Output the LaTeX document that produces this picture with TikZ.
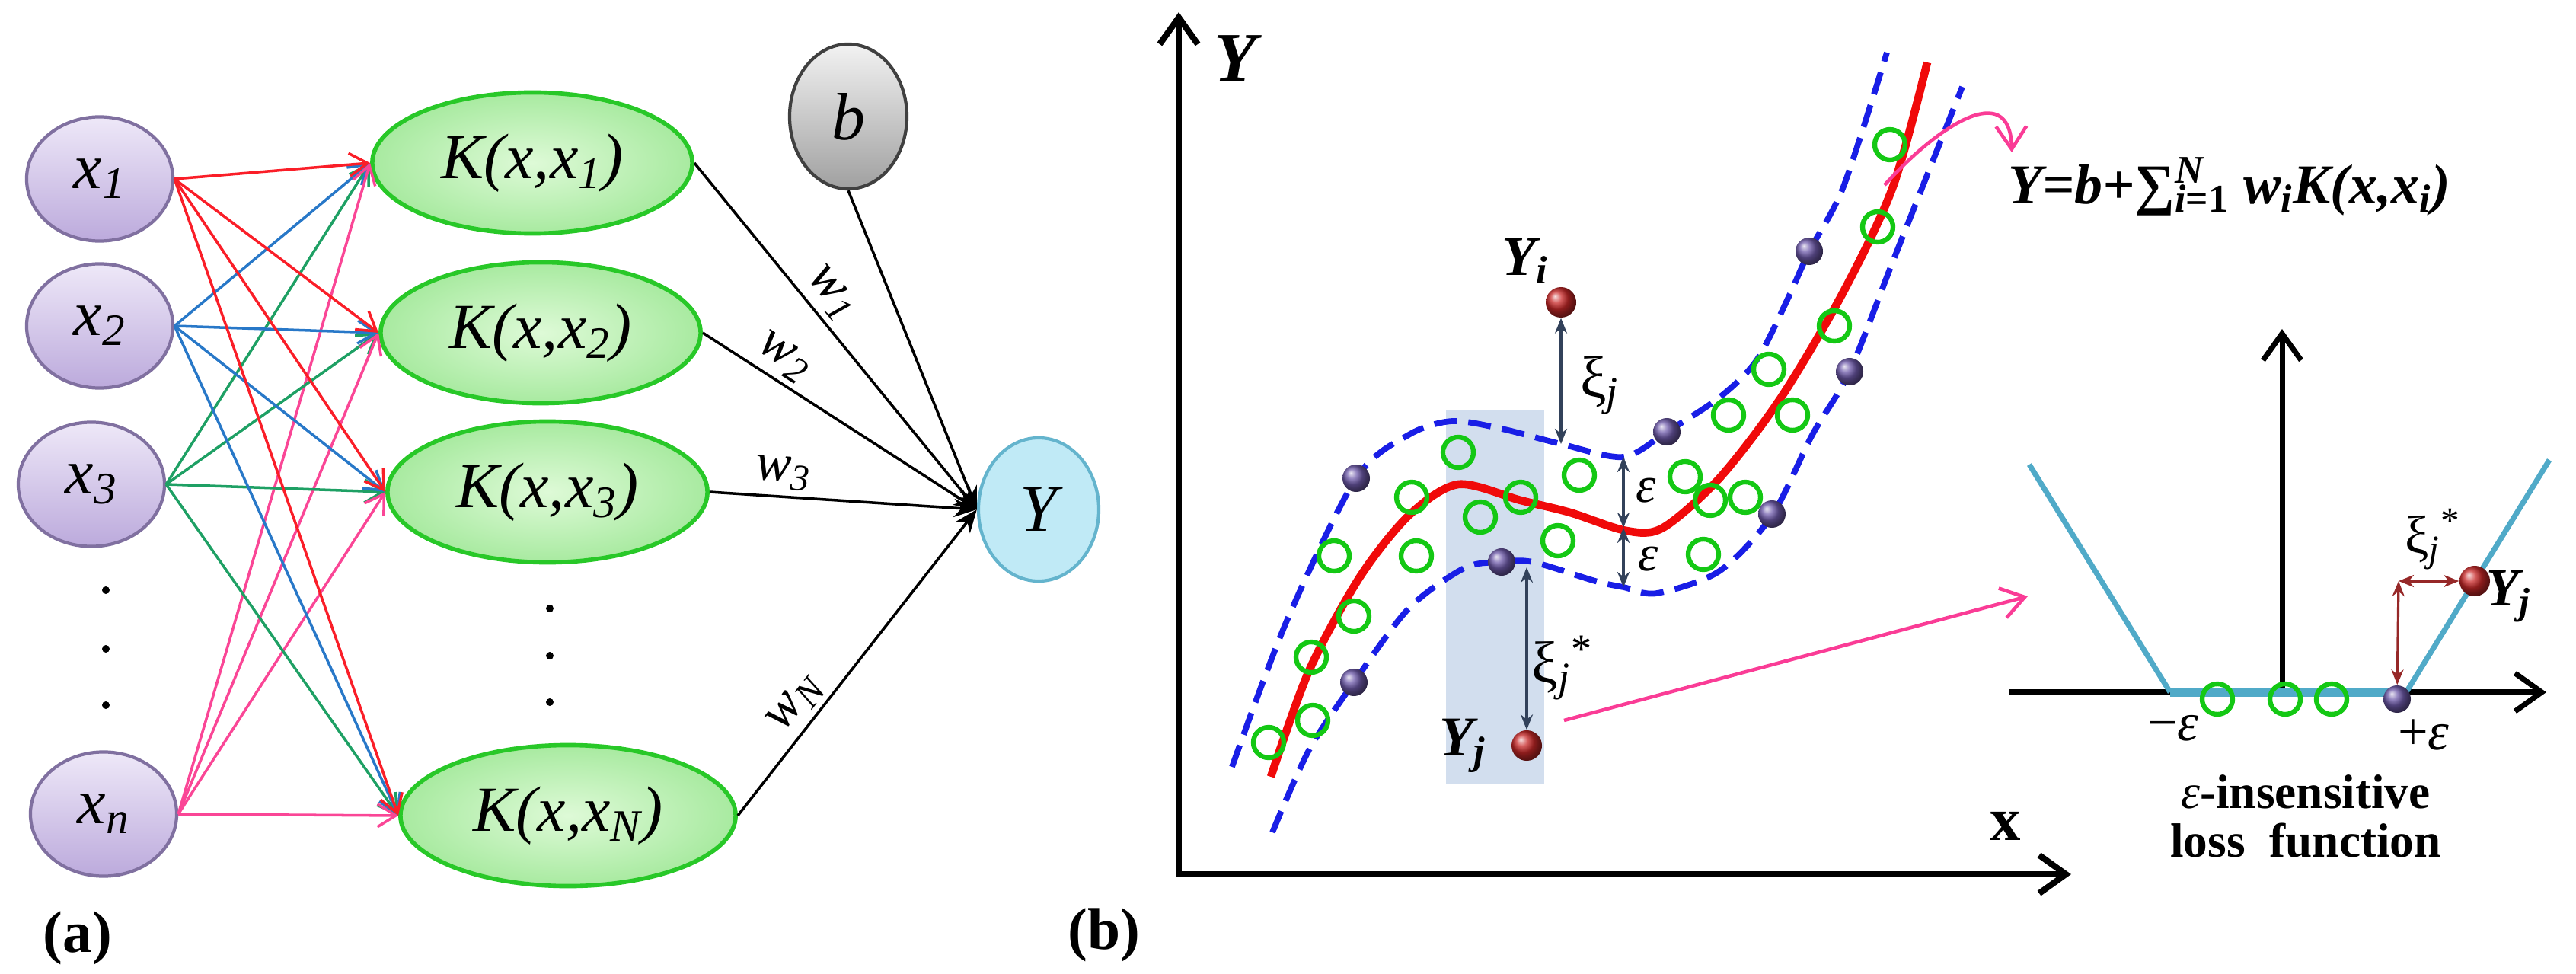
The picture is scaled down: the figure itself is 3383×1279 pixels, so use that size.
\documentclass[tikz,border=0pt]{standalone}
\usepackage{fontspec}
\setmainfont{Liberation Serif}
\usetikzlibrary{shapes.geometric,arrows.meta,positioning,calc}
\definecolor{xfillA}{RGB}{238,232,248}
\definecolor{xfillB}{RGB}{188,170,220}
\definecolor{xline}{RGB}{128,112,160}
\definecolor{kfillA}{RGB}{222,250,215}
\definecolor{kfillB}{RGB}{168,234,160}
\definecolor{kline}{RGB}{40,200,40}
\definecolor{bfillA}{RGB}{242,242,242}
\definecolor{bfillB}{RGB}{160,160,160}
\definecolor{yfill}{RGB}{192,234,246}
\definecolor{yline}{RGB}{100,180,205}
\definecolor{inred}{RGB}{250,30,40}
\definecolor{inblue}{RGB}{40,120,200}
\definecolor{ingreen}{RGB}{30,160,100}
\definecolor{inpink}{RGB}{250,70,150}
\definecolor{tubeblue}{RGB}{25,30,230}
\definecolor{fitred}{RGB}{240,10,10}
\definecolor{svgreen}{RGB}{20,200,20}
\definecolor{slack}{RGB}{50,65,90}
\definecolor{tubefill}{RGB}{210,222,238}
\definecolor{lossblue}{RGB}{80,170,200}
\definecolor{lossred}{RGB}{150,40,40}
\definecolor{zoompink}{RGB}{250,60,150}
\definecolor{svpurple}{RGB}{110,90,170}
\definecolor{ptred}{RGB}{200,40,40}
\newcommand{\fsz}[1]{\fontsize{#1}{#1}\selectfont}
\tikzset{
    xin/.style={ellipse, draw=xline, line width=1.2pt, top color=xfillA, bottom color=xfillB,
        minimum width=1.92cm, minimum height=1.63cm, font=\fsz{24}\itshape},
    kern/.style={ellipse, draw=kline, line width=1.6pt, inner color=kfillA, outer color=kfillB,
        minimum width=4.2cm, minimum height=1.85cm, font=\fsz{24}\itshape},
    bias/.style={ellipse, draw=black!75, line width=1.2pt, top color=bfillA, bottom color=bfillB,
        minimum width=1.54cm, minimum height=1.9cm, font=\fsz{25}\itshape},
    outnode/.style={ellipse, draw=yline, line width=1.2pt, fill=yfill,
        minimum width=1.58cm, minimum height=1.88cm, font=\fsz{25}\itshape},
    inedge/.style={line width=1pt, -{Straight Barb[length=2.4mm,width=3mm]}},
    outedge/.style={line width=1pt, -{Stealth[length=3mm,width=2.4mm]}},
    wlab/.style={sloped, above, font=\fsz{20}\itshape, inner sep=2pt},
    panel/.style={font=\fsz{22}\bfseries},
    mainaxis/.style={line width=2.3pt, {Straight Barb[length=3.5mm,width=5mm]}-{Straight Barb[length=3.5mm,width=5mm]}},
    insetaxis/.style={line width=2pt, -{Straight Barb[length=3.5mm,width=5mm]}},
    tubeline/.style={tubeblue, line width=2.2pt, dash pattern=on 3mm off 1.5mm},
    fitcurve/.style={fitred, line width=3pt},
    svring/.style={svgreen, line width=1.8pt},
    pball/.style={circle, ball color=svpurple, minimum size=0.36cm, inner sep=0pt},
    rball/.style={circle, ball color=ptred, minimum size=0.4cm, inner sep=0pt},
    slackarr/.style={slack, line width=0.9pt, {Stealth[length=2mm,width=1.6mm]}-{Stealth[length=2mm,width=1.6mm]}},
    lossarr/.style={lossred, line width=0.9pt, {Stealth[length=2mm,width=1.6mm]}-{Stealth[length=2mm,width=1.6mm]}},
    pinkarr/.style={zoompink, line width=1.3pt, -{Straight Barb[length=3mm,width=4mm]}},
    lossline/.style={lossblue, line width=2pt},
    lab/.style={font=\fsz{22}, inner sep=1pt}
}
\begin{document}
\begin{tikzpicture}[x=0.01cm, y=-0.01cm]
    \useasboundingbox (0,0) rectangle (3383,1279);

    % (a) Nodes
    \node[xin] (x1) at (131,235) {x\textsubscript{1}};
    \node[xin] (x2) at (131,428) {x\textsubscript{2}};
    \node[xin] (x3) at (120,636) {x\textsubscript{3}};
    \node[xin] (xn) at (136,1069) {x\textsubscript{n}};
    \node[kern] (K1) at (699,214) {K(x,x\textsubscript{1})};
    \node[kern] (K2) at (710,437) {K(x,x\textsubscript{2})};
    \node[kern] (K3) at (719,646) {K(x,x\textsubscript{3})};
    \node[kern, minimum width=4.4cm] (KN) at (746,1071) {K(x,x\textsubscript{N})};
    \node[bias] (b) at (1114,153) {b};
    \node[outnode] (Y) at (1364,669) {Y};
    \foreach \yy in {775,852,926} \fill (139,\yy) circle[radius=5];
    \foreach \yy in {799,861,922} \fill (722,\yy) circle[radius=5];

    % edges
    \foreach \k in {K1,K2,K3,KN} {
        \draw[inedge, ingreen] (x3.east) -- (\k.west);
        \draw[inedge, inblue] (x2.east) -- (\k.west);
        \draw[inedge, inpink] (xn.east) -- (\k.west);
        \draw[inedge, inred] (x1.east) -- (\k.west);
    }
    \draw[outedge] (K1.east) -- node[wlab, pos=0.42] (w1) {w\textsubscript{1}} (Y.west);
    \draw[outedge] (K2.east) -- node[wlab, pos=0.25] (w2) {w\textsubscript{2}} (Y.west);
    \draw[outedge] (K3.east) -- node[wlab, pos=0.27] (w3) {w\textsubscript{3}} (Y.west);
    \draw[outedge] (KN.east) -- node[wlab, pos=0.32] (wN) {w\textsubscript{N}} (Y.west);
    \draw[outedge] (b.south) -- (Y.west);
    \node[panel] (pa) at (102,1232) {(a)};

    % (b) regression
    \fill[tubefill] (1899,538) rectangle (2028,1029);
    \coordinate (O) at (1548,1148);
    \coordinate (ytop) at (1548,16);
    \coordinate (xend) at (2720,1148);
    \draw[mainaxis] (ytop) -- (O) -- (xend);
    \node[font=\fsz{26}\bfseries\itshape] (ylab) at (1622,77) {Y};
    \node[font=\fsz{23}\bfseries] (xlab) at (2634,1085) {x};
    \node[panel] (pb) at (1450,1228) {(b)};

    \draw[tubeline] plot[smooth] coordinates {(1618,1007) (1690,815) (1781,628) (1850,571) (1907,553)
        (1972,563) (2050,583) (2132,600) (2189,567) (2258,522) (2307,473) (2348,392) (2376,330)
        (2421,245) (2478,69)};
    \draw[tubeline] plot[smooth] coordinates {(1671,1093) (1719,985) (1778,896) (1850,799) (1923,746)
        (1972,738) (2013,738) (2095,763) (2132,771) (2176,779) (2258,750) (2327,677) (2380,571)
        (2429,488) (2486,343) (2577,114)};
    \draw[fitcurve] plot[smooth] coordinates {(1669,1020) (1719,881) (1785,759) (1850,677) (1915,636)
        (1997,657) (2062,673) (2136,697) (2184,693) (2258,628) (2339,522) (2421,383) (2486,245)
        (2531,82)};

    \foreach \p in {(1915,594),(1854,653),(1944,679),(1997,653),(2074,624),(2046,710),(1752,730),
        (1860,730),(1778,809),(1722,863),(1724,946),(1666,975),(2213,626),(2246,657),(2292,653),
        (2237,728),(2270,545),(2354,545),(2323,485),(2409,428),(2466,298),(2482,190)}
        \draw[svring] \p circle[radius=20];

    \node[pball] (sv1) at (1781,628) {};
    \node[pball] (sv2) at (2189,567) {};
    \node[pball] (sv3) at (2376,330) {};
    \node[pball] (sv4) at (2429,488) {};
    \node[pball] (sv5) at (2327,675) {};
    \node[pball] (sv6) at (1972,738) {};
    \node[pball] (sv7) at (1778,896) {};
    \node[rball] (Yi) at (2050,397) {};
    \node[rball] (Yj) at (2005,979) {};

    \node[lab, font=\fsz{21}\bfseries\itshape] (Yilab) at (2003,343) {Y\textsubscript{i}};
    \node[lab, font=\fsz{21}\bfseries\itshape] (Yjlab) at (1921,979) {Y\textsubscript{j}};
    \coordinate (tA) at (2050,583);
    \coordinate (tB) at (2005,745);
    \coordinate (eA) at (2132,600);
    \coordinate (eB) at (2132,693);
    \coordinate (eC) at (2132,771);
    \draw[slackarr] (Yi) -- (tA);
    \draw[slackarr] (tB) -- (Yj);
    \draw[slackarr] (eA) -- (eB);
    \draw[slackarr] (eB) -- (eC);
    \node[lab] (xi1) at (2101,506) {ξ\textsubscript{\itshape j}};
    \node[lab] (xi2) at (2052,877) {ξ\textsubscript{\itshape j}\textsuperscript{*}};
    \node[lab, font=\fsz{19}\itshape] (eps1) at (2162,644) {ε};
    \node[lab, font=\fsz{19}\itshape] (eps2) at (2165,734) {ε};

    % formula and zoom arrows
    \node[font=\fsz{21}\bfseries\itshape] (eq) at (2928,245)
        {Y=b+{\upshape ∑}\rlap{\textsuperscript{N}}\textsubscript{i{\upshape =1}} w\textsubscript{i}K(x,x\textsubscript{i})};
    \coordinate (fitpt) at (2475,243);
    \coordinate (eqtip) at (2642,200);
    \draw[pinkarr] (fitpt) .. controls (2540,170) and (2640,100) .. (eqtip);
    \coordinate (zf) at (2054,946);
    \coordinate (zt) at (2663,783);
    \draw[pinkarr] (zf) -- (zt);

    % inset: loss function
    \coordinate (iO) at (2997,909);
    \coordinate (iT) at (2997,432);
    \coordinate (iL) at (2638,909);
    \coordinate (iR) at (3344,909);
    \draw[insetaxis] (iO) -- (iT);
    \draw[insetaxis] (iL) -- (iR);
    \coordinate (vL) at (2665,610);
    \coordinate (vA) at (2850,909);
    \coordinate (vB) at (3160,909);
    \coordinate (vR) at (3348,604);
    \draw[lossline] (vL) -- (vA);
    \draw[lossline, line width=3.5pt] (vA) -- (vB);
    \draw[lossline] (vB) -- (vR);
    \foreach \xx in {2912,3001,3062} \draw[svring] (\xx,918) circle[radius=20];
    \node[pball] (sv8) at (3148,918) {};
    \node[rball] (Yk) at (3250,763) {};
    \coordinate (cA) at (3150,763);
    \draw[lossarr] (cA) -- (Yk);
    \draw[lossarr] (cA) -- (sv8);
    \node[lab, font=\fsz{20}] (xi3) at (3195,708) {ξ\textsubscript{\itshape j}\textsuperscript{*}};
    \node[lab, font=\fsz{20}\bfseries\itshape] (Yklab) at (3295,783) {Y\textsubscript{j}};
    \node[lab, font=\fsz{20}] (meps) at (2854,956) {−{\itshape ε}};
    \node[lab, font=\fsz{20}] (peps) at (3183,965) {+{\itshape ε}};
    \node[font=\fsz{18}\bfseries, align=center] (losslab) at (3028,1072)
        {{\mdseries\itshape ε}-insensitive\\loss~~function};
\end{tikzpicture}
\end{document}
